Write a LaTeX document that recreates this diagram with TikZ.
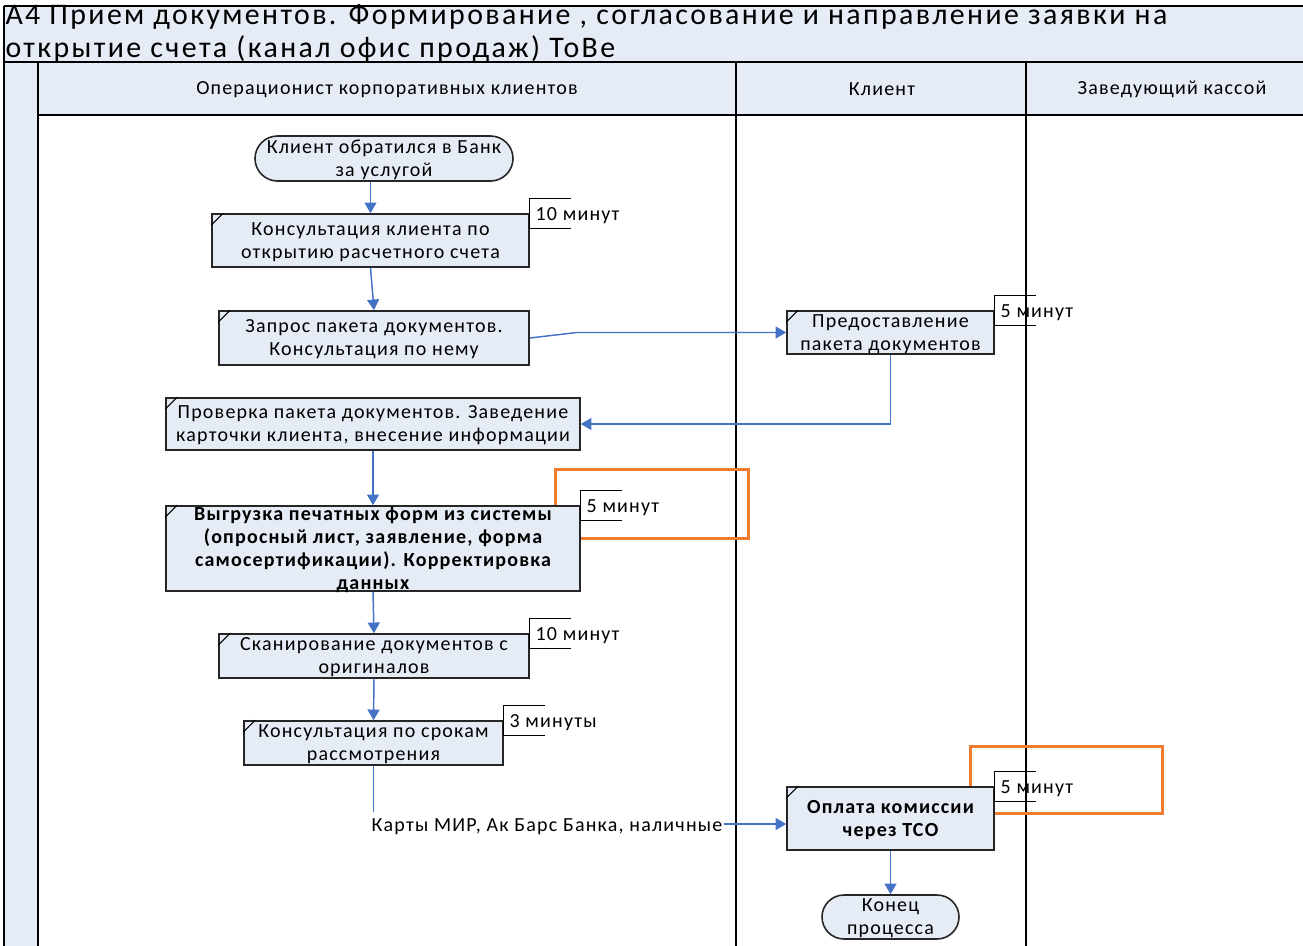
\documentclass[tikz,border=0pt]{standalone}
\usepackage{fontspec}
\setmainfont{Carlito}[LetterSpace=6]
\newfontfamily\titlefam{Carlito}[LetterSpace=8]
\usetikzlibrary{arrows.meta,shapes.misc,positioning}

\definecolor{laneblue}{RGB}{230,236,246}
\definecolor{flowblue}{RGB}{68,114,196}
\definecolor{hiliteorange}{RGB}{237,125,49}
\newcommand\procfont{\fontsize{15}{17.25}\selectfont}
\newcommand\titlefont{\titlefam\fontsize{22.4}{24.75}\selectfont}

\tikzset{every picture/.style={line width=0.75pt}}

\begin{document}
\begin{tikzpicture}[x=0.75pt,y=0.75pt,yscale=-1,xscale=1,
  lane/.style={line width=1.5pt},
  proc/.style={draw=black!85, fill=laneblue, line width=1.2pt, inner sep=0pt, align=center, font=\procfont, text depth=0pt},
  term/.style={rounded rectangle, draw=black!85, fill=laneblue, line width=1.2pt, inner sep=0pt, align=center, font=\procfont, text depth=0pt},
  note/.style={inner sep=0pt, font=\procfont, text height=13pt},
  bracket/.style={line width=0.9pt},
  hilite/.style={draw=hiliteorange, line width=2.25pt},
  flowline/.style={draw=flowblue, line width=1.1pt},
  flow/.style={flowline, -{Triangle[length=8pt,width=9pt]}}]
\useasboundingbox (0,0) rectangle (1303,946);
\fill[white] (0,0) rectangle (1303,946);

%Pool and lanes
\fill[laneblue] (4,6) rectangle (1303,62);
\node[anchor=north west, align=left, inner sep=0pt, font=\titlefont] (title) at (5,4) {А4 Прием документов. Формирование , согласование и направление заявки на\\открытие счета (канал офис продаж) ТоВе};
\fill[laneblue] (4,62) rectangle (1303,115);
\fill[laneblue] (4,115) rectangle (38,946);
\draw[lane] (4,6) -- (1303,6);
\draw[lane] (4,6) -- (4,946);
\draw[lane] (4,62) -- (1303,62);
\draw[lane] (38,115) -- (1303,115);
\draw[lane] (38,62) -- (38,946);
\draw[lane] (736,62) -- (736,946);
\draw[lane] (1026,62) -- (1026,946);

% Lane headers
\node[note] (hdrA) at (387,87) {Операционист корпоративных клиентов};
\node[note] (hdrB) at (882,87) {Клиент};
\node[note] (hdrC) at (1172,87) {Заведующий кассой};

%Highlight frames
\draw[hilite] (555,469) rectangle (748,538);
\draw[hilite] (970,746) rectangle (1162,813);

% Steps
\node[term, minimum width=193.5pt, minimum height=33.75pt] (n1) at (384,158.5) {Клиент обратился в Банк\\за услугой};
\node[proc, minimum width=237.75pt, minimum height=39.75pt] (n2) at (370.5,240.5) {Консультация клиента по\\открытию расчетного счета};
\node[proc, minimum width=232.5pt, minimum height=40.5pt] (n3) at (374,338) {Запрос пакета документов.\\Консультация по нему};
\node[proc, minimum width=155.25pt, minimum height=32.25pt] (n4) at (890.5,332.5) {Предоставление\\пакета документов};
\node[proc, minimum width=310.5pt, minimum height=39pt] (n5) at (373,424) {Проверка пакета документов. Заведение\\карточки клиента, внесение информации};
\node[proc, minimum width=310.5pt, minimum height=63.75pt] (n6) at (373,548.5) {};
\node[proc, draw=none, fill=none, font=\procfont\bfseries] (n6txt) at (373,548.5) {Выгрузка печатных форм из системы\\(опросный лист, заявление, форма\\самосертификации). Корректировка\\данных};
\node[proc, minimum width=232.5pt, minimum height=33pt] (n7) at (374,656) {Сканирование документов с\\оригиналов};
\node[proc, minimum width=194.25pt, minimum height=33pt] (n8) at (373.5,743) {Консультация по срокам\\рассмотрения};
\node[proc, minimum width=155.25pt, minimum height=47.25pt, font=\procfont\bfseries] (n9) at (890.5,818.5) {Оплата комиссии\\через ТСО};
\node[term, minimum width=102.75pt, minimum height=33pt] (n10) at (890.5,917) {Конец\\процесса};

\foreach \b in {n2,n3,n4,n5,n6,n7,n8,n9}
  \draw[line width=0.8pt] (\b.north west) ++(0,12) -- ++(12,-12);

% Durations
\draw[bracket] (n2.north east) ++(41,-15) -- ++(-41,0) -- ++(0,30) -- ++(41,0);
\node[note, right=4pt of n2.north east] (t2) {10 минут};
\draw[bracket] (n4.north east) ++(41,-15) -- ++(-41,0) -- ++(0,30) -- ++(41,0);
\node[note, right=4pt of n4.north east] (t4) {5 минут};
\draw[bracket] (n6.north east) ++(41,-15) -- ++(-41,0) -- ++(0,30) -- ++(41,0);
\node[note, right=4pt of n6.north east] (t6) {5 минут};
\draw[bracket] (n7.north east) ++(41,-15) -- ++(-41,0) -- ++(0,30) -- ++(41,0);
\node[note, right=4pt of n7.north east] (t7) {10 минут};
\draw[bracket] (n8.north east) ++(41,-15) -- ++(-41,0) -- ++(0,30) -- ++(41,0);
\node[note, right=4pt of n8.north east] (t8) {3 минуты};
\draw[bracket] (n9.north east) ++(41,-15) -- ++(-41,0) -- ++(0,30) -- ++(41,0);
\node[note, right=4pt of n9.north east] (t9) {5 минут};

% Connectors
\coordinate (bend) at (577,332.5);
\node[note, inner sep=1pt] (pay) at (547,824) {Карты МИР, Ак Барс Банка, наличные};
\draw[flow] (n1.south -| n2.north) -- (n2.north);
\draw[flow] (n2.south) -- (n3.north);
\draw[flow] (n3.east) -- (bend) -- (n4.west);
\draw[flow] (n4.south) |- (n5.east);
\draw[flow] (n5.south) -- (n6.north);
\draw[flow] (n6.south) -- (n7.north);
\draw[flow] (n7.south) -- (n8.north);
\draw[flowline] (n8.south) -- (n8.south |- pay.north);
\draw[flow] (pay.east) -- (pay.east -| n9.west);
\draw[flow] (n9.south) -- (n10.north);

\end{tikzpicture}
\end{document}
